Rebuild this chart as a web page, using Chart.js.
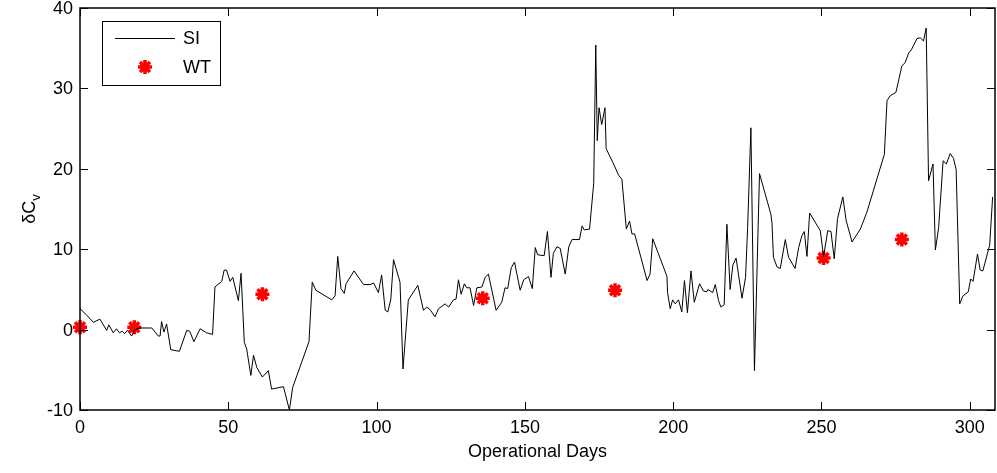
<!DOCTYPE html>
<html>
<head>
<meta charset="utf-8">
<script src="https://cdn.jsdelivr.net/npm/chart.js@4/dist/chart.umd.min.js"></script>
<style>
  html, body { margin: 0; padding: 0; background: #fff; }
  canvas { display: block; }
</style>
</head>
<body>
<canvas id="cvChart" width="997" height="473"></canvas>
<script>
// SI series (operational day, value)
var siDays = [0,2,4.5,6.7,9,9.7,11.2,12.3,13.3,14.2,15,16,17.4,18.5,20.2,24.2,26.4,27,27.5,28.3,29.2,30.6,33.5,36,37,38.4,40.5,42.7,44.7,45.5,47.8,48.6,49.4,50.6,51.5,53.4,54.3,55.4,56.2,57.6,58.5,59.6,61.5,63.5,64.6,68.6,70.6,71.7,77.2,78.3,79.5,84.9,86,86.9,88,89.1,89.7,92.4,95.6,97.8,99,100.6,101.7,102.9,103.8,104.8,105.7,107.9,108.9,110.7,113.9,115.8,116.9,118,119.7,120.9,123.1,124.3,125.9,126.8,127.6,128.5,129.6,130.4,131.5,132.7,133.8,135.5,136.6,137.7,140.3,142.2,143.3,144.2,145.4,146.5,148.4,149.6,151.2,152.5,153.5,154.3,156.5,157.6,158.8,159.6,160.8,161.9,163.6,164.8,165.9,168.4,169.3,170,171.8,173.2,173.9,174.4,175,175.9,177,177.4,179.9,181.6,182.7,184.2,185.3,186.1,187,191.2,192.2,193.1,196.7,197.9,198.1,199,199.8,200.7,201.8,202.9,203.8,204.8,206,207.1,208.9,210.2,211.3,211.7,213.3,214.2,215.3,216.1,217.2,218.1,219.2,220.1,221.2,223.2,224.4,225.1,226.2,227.4,229.1,232.9,233.3,233.8,235,236.1,237.8,238.9,241.1,242.3,243.4,244.2,245.1,246,249.6,250.7,252.1,253.2,254.3,255.4,257.2,258.3,260.3,263.1,265.3,271.2,272.1,273.2,275.1,277.1,278.2,279.4,280.3,282.2,283.3,284.4,285.3,286.1,287.6,288.4,289.5,291,292.1,293.4,294.5,295.4,296.6,297.7,299.5,300.3,301.1,302.6,303.5,304.4,306.7,307.7];
var siValues = [2.6,1.9,0.9,1.3,-0.1,0.6,-0.4,0.1,-0.4,-0.2,-0.5,-0.1,-0.8,0,0.2,0.2,-0.8,-0.8,1.0,-0.3,0.7,-2.5,-2.7,-0.1,-0.2,-1.5,0.1,-0.4,-0.6,5.3,6.0,7.4,7.4,6.0,6.5,3.6,7.0,-1.6,-2.4,-5.7,-3.2,-4.7,-5.9,-5.1,-7.4,-7.1,-10,-7.2,-1.5,5.9,4.9,3.7,4.2,9.1,5.1,4.5,5.7,7.3,5.6,5.6,5.8,4.6,6.8,2.4,2.2,3.8,8.7,5.9,-4.9,3.7,5.5,2.4,2.8,2.5,1.6,2.6,3.2,2.8,3.7,3.8,6.2,4.4,5.7,5.2,5.2,3.0,5.2,5.3,6.5,6.9,2.4,3.4,5.2,5.1,7.7,8.4,4.9,6.2,6.6,5.1,10.2,9.3,9.2,12.2,6.5,9.5,10.3,10.1,6.9,10.3,11.2,11.2,12.9,12.4,12.5,18.2,35.4,23.5,27.6,25.5,27.6,22.5,20.6,19.2,18.7,12.5,13.5,11.9,11.9,6.1,6.9,11.3,7.8,6.6,4.6,2.6,3.7,3.2,3.7,2.2,6.1,2.1,7.3,3.4,5.7,4.8,4.7,5.0,4.6,5.6,3.6,2.8,3.1,13.1,5.0,8.0,8.9,3.9,6.5,12.7,25.1,-5.1,19.4,14.4,13.3,9.0,7.8,7.6,11.2,9.0,7.6,10.2,11.7,12.2,9.1,14.5,12.3,9.1,12.3,12.2,8.8,13.8,16.5,13.6,10.9,12.5,14.6,21.8,28.5,29.1,29.5,32.8,33.2,34.4,34.8,36.2,36.3,35.9,37.5,18.5,20.6,9.9,12.7,21.0,20.6,21.9,21.3,19.9,3.2,4.2,4.7,6.3,6.0,9.4,7.4,7.3,10.5,16.5];

// WT series
var wtDays = [0, 18.3, 61.5, 135.8, 180.4, 250.7, 277.1];
var wtValues = [0.3, 0.3, 4.4, 3.9, 4.9, 8.9, 11.2];

var xTicks = [0, 50, 100, 150, 200, 250, 300];
var yTicks = [-10, 0, 10, 20, 30, 40];

var FONT = "'Liberation Sans', Arial, Helvetica, sans-serif";

function toPoints(xs, ys) {
    return xs.map(function(x, i) { return { x: x, y: ys[i] }; });
}

// box, inward ticks, tick labels, axis titles and legend (matlab style)
var frame = {
    id: 'frame',
    afterDraw: function(chart) {
        var c = chart.ctx, a = chart.chartArea;
        var xs = chart.scales.x, ys = chart.scales.y;
        c.save();
        c.strokeStyle = '#000';
        c.lineWidth = 1;
        c.beginPath();
        xTicks.forEach(function(v) {
            var px = Math.round(xs.getPixelForValue(v)) + 0.5;
            c.moveTo(px, a.bottom); c.lineTo(px, a.bottom - 8);
            c.moveTo(px, a.top); c.lineTo(px, a.top + 8);
        });
        yTicks.forEach(function(v) {
            var py = Math.round(ys.getPixelForValue(v)) + 0.5;
            c.moveTo(a.left, py); c.lineTo(a.left + 8, py);
            c.moveTo(a.right, py); c.lineTo(a.right - 8, py);
        });
        c.stroke();
        c.lineWidth = 1.5;
        c.strokeRect(a.left, a.top, a.right - a.left, a.bottom - a.top);

        c.fillStyle = '#000';
        c.font = '18px ' + FONT;
        c.textBaseline = 'middle';
        c.textAlign = 'center';
        xTicks.forEach(function(v) {
            c.fillText(String(v), xs.getPixelForValue(v), a.bottom + 18);
        });
        c.textAlign = 'right';
        yTicks.forEach(function(v) {
            c.fillText(String(v), a.left - 7, ys.getPixelForValue(v) + 1);
        });

        // x title
        c.textAlign = 'center';
        c.fillText('Operational Days', (a.left + a.right) / 2, 452);

        // y title with subscript
        c.save();
        c.translate(30, (a.top + a.bottom) / 2);
        c.rotate(-Math.PI / 2);
        c.textAlign = 'left';
        c.font = '18px ' + FONT;
        var w1 = c.measureText('\u03b4C').width;
        c.font = '13px ' + FONT;
        var w2 = c.measureText('v').width;
        var x0 = -(w1 + w2) / 2;
        c.font = '18px ' + FONT;
        c.fillText('\u03b4C', x0, 0);
        c.font = '13px ' + FONT;
        c.fillText('v', x0 + w1, 6);
        c.restore();

        // legend
        var lx = 102, ly = 21, lw = 118, lh = 64;
        c.fillStyle = '#fff';
        c.fillRect(lx, ly, lw, lh);
        c.lineWidth = 1;
        c.strokeStyle = '#000';
        c.strokeRect(lx + 0.5, ly + 0.5, lw, lh);
        var d0 = chart.data.datasets[0], d1 = chart.data.datasets[1];
        c.strokeStyle = d0.borderColor;
        c.lineWidth = 1;
        c.beginPath();
        c.moveTo(115, 38.5); c.lineTo(175, 38.5);
        c.stroke();
        c.strokeStyle = d1.borderColor;
        c.lineWidth = d1.borderWidth;
        Chart.helpers.drawPoint(c, { pointStyle: 'star', radius: d1.pointRadius, borderWidth: d1.borderWidth }, 145, 67);
        c.fillStyle = '#000';
        c.font = '18px ' + FONT;
        c.textAlign = 'left';
        c.textBaseline = 'middle';
        c.fillText('SI', 183, 39);
        c.fillText('WT', 183, 68);
        c.restore();
    }
};

new Chart(document.getElementById('cvChart').getContext('2d'), {
    type: 'line',
    data: {
        datasets: [{
            label: 'SI',
            data: toPoints(siDays, siValues),
            borderColor: '#000',
            borderWidth: 1,
            pointRadius: 0,
            fill: false,
            tension: 0
        }, {
            label: 'WT',
            data: toPoints(wtDays, wtValues),
            showLine: false,
            pointStyle: 'star',
            pointRadius: 7,
            borderColor: '#ff0000',
            backgroundColor: '#ff0000',
            borderWidth: 3.5,
            clip: 10
        }]
    },
    options: {
        responsive: false,
        animation: false,
        devicePixelRatio: 1,
        layout: { autoPadding: false, padding: { left: 0, top: 8, right: 2, bottom: 0 } },
        plugins: {
            legend: { display: false },
            tooltip: { enabled: false }
        },
        scales: {
            x: {
                type: 'linear',
                min: 0,
                max: 308.5,
                grid: { display: false },
                border: { display: false },
                ticks: { display: false },
                afterBuildTicks: function(s) { s.ticks = xTicks.map(function(v) { return { value: v }; }); },
                afterFit: function(s) { s.height = 63; }
            },
            y: {
                min: -10,
                max: 40,
                grid: { display: false },
                border: { display: false },
                ticks: { display: false },
                afterBuildTicks: function(s) { s.ticks = yTicks.map(function(v) { return { value: v }; }); },
                afterFit: function(s) { s.width = 80; }
            }
        }
    },
    plugins: [frame]
});
</script>
</body>
</html>
